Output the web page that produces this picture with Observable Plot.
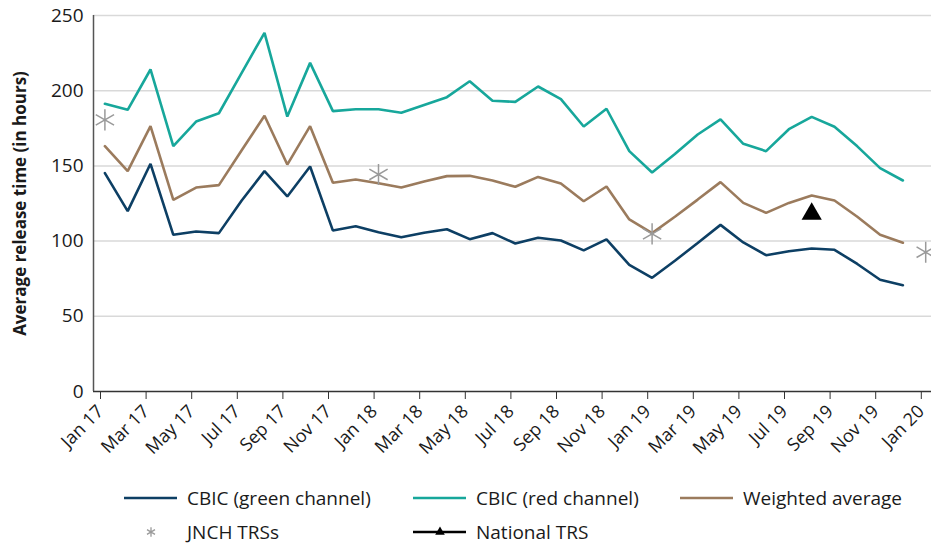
<!DOCTYPE html>
<html><head><meta charset="utf-8">
<script src="https://cdn.jsdelivr.net/npm/d3@7"></script>
<script src="https://cdn.jsdelivr.net/npm/@observablehq/plot@0.6"></script>
<style>
body{margin:0;background:#fff;}
#wrap{width:931px;height:546px;overflow:hidden;font-family:"Open Sans",sans-serif;}
#wrap svg{display:block;}
</style></head><body><div id="wrap"><div id="chart"></div><svg id="legend" width="931" height="76"></svg></div>
<script>
const months = ["Jan 17","Feb 17","Mar 17","Apr 17","May 17","Jun 17","Jul 17","Aug 17","Sep 17","Oct 17","Nov 17","Dec 17",
"Jan 18","Feb 18","Mar 18","Apr 18","May 18","Jun 18","Jul 18","Aug 18","Sep 18","Oct 18","Nov 18","Dec 18",
"Jan 19","Feb 19","Mar 19","Apr 19","May 19","Jun 19","Jul 19","Aug 19","Sep 19","Oct 19","Nov 19","Dec 19"];
const allMonths = [...months, "Jan 20"];
const tickLabels = ["Jan 17","Mar 17","May 17","Jul 17","Sep 17","Nov 17","Jan 18","Mar 18","May 18","Jul 18","Sep 18","Nov 18","Jan 19","Mar 19","May 19","Jul 19","Sep 19","Nov 19","Jan 20"];
const yTicks = [0,50,100,150,200,250];

const greenChannel = [145.2,119.9,151.4,104.2,106.4,105.3,127,146.5,129.7,149.6,107.0,109.9,
105.9,102.6,105.5,107.9,101.3,105.3,98.4,102.2,100.4,93.8,101.1,84.2,
75.6,86.9,98.8,110.8,99.1,90.6,93.3,95.1,94.2,84.8,74.3,70.7];
const redChannel = [191.3,187.3,214.1,163.1,179.5,185.0,211.9,238.5,182.8,218.5,186.4,187.7,
187.7,185.3,190.5,195.7,206.3,193.3,192.6,202.8,194.4,176.2,188.0,159.8,
145.6,157.9,170.9,180.9,164.7,159.8,174.4,182.6,176.0,163.0,148.5,140.3];
const weightedAvg = [163.1,146.5,176.4,127.4,135.6,137.2,160.4,183.3,150.9,176.4,138.8,141.0,
138.5,135.6,139.6,143.2,143.4,140.3,136.1,142.7,138.3,126.5,136.3,114.4,
105.3,116.2,127.6,139.2,125.4,118.8,125.4,130.3,127.0,116.2,104.2,98.9];
const jnchMonths = ["Jan 17","Jan 18","Jan 19","Jan 20"];
const jnchValues = [180.6,144.3,104.8,92.6];
const nationalMonths = ["Aug 19"];
const nationalValues = [118.1];

const seriesNames = ["CBIC (green channel)","CBIC (red channel)","Weighted average","JNCH TRSs","National TRS"];
const colors = {"CBIC (green channel)":"#0d3f64","CBIC (red channel)":"#17a79b","Weighted average":"#9b7b5d","JNCH TRSs":"#9a9a9a","National TRS":"#000000"};

const center = m => allMonths.indexOf(m) + 0.5;
const lineRows = [];
[[greenChannel,seriesNames[0]],[redChannel,seriesNames[1]],[weightedAvg,seriesNames[2]]].forEach(([vals,name]) => {
  vals.forEach((v,i) => lineRows.push({x: center(months[i]), y: v, s: name}));
});
const jnch = jnchMonths.map((m,i) => ({x: center(m), y: jnchValues[i]}));
const national = nationalMonths.map((m,i) => ({x: center(m), y: nationalValues[i]}));
const tickIdx = tickLabels.map(l => allMonths.indexOf(l));

const FONT = "Open Sans";
const chart = Plot.plot({
  width: 931, height: 470,
  marginTop: 15, marginBottom: 79, marginLeft: 93, marginRight: 0,
  style: {fontFamily: FONT, fontSize: "16px", color: "#1a1a1a", background: "white", overflow: "visible"},
  x: {domain: [0, 37], range: [93, 936.6]},
  y: {domain: [0, 250]},
  marks: [
    Plot.gridY(yTicks.filter(d => d > 0), {stroke: "#d9d9d9", strokeOpacity: 1, strokeWidth: 1.5}),
    Plot.axisY(yTicks, {tickSize: 0, tickPadding: 10, label: null, fontSize: 19}),
    Plot.axisX(tickIdx, {tickFormat: d => allMonths[d], tickRotate: -45, tickSize: 8, tickPadding: 9, dx: 7, label: null, fontSize: 18, stroke: "#333"}),
    Plot.ruleY([0], {stroke: "#333", strokeWidth: 1.5}),
    Plot.ruleX([0], {stroke: "#555", strokeWidth: 1.5}),
    Plot.line(lineRows, {x: "x", y: "y", z: "s", stroke: d => colors[d.s], strokeWidth: 2.6, strokeLinejoin: "miter"}),
    Plot.dot(jnch, {x: "x", y: "y", symbol: "asterisk", r: 10, stroke: colors["JNCH TRSs"], strokeWidth: 1.5}),
    Plot.dot(national, {x: "x", y: "y", symbol: "triangle", r: 7.5, fill: "#000", stroke: null}),
    Plot.text(["Average release time (in hours)"], {frameAnchor: "left", textAnchor: "middle", dx: -73, rotate: -90, fontWeight: "bold", fontSize: 17, fill: "#1a1a1a"})
  ]
});
document.getElementById("chart").appendChild(chart);

// legend
const lg = d3.select("#legend").style("font-family", FONT).style("font-size", "19px");
const items = [
  {name: seriesNames[0], x0: 124, y: 28, type: "line"},
  {name: seriesNames[1], x0: 413, y: 28, type: "line"},
  {name: seriesNames[2], x0: 680, y: 28, type: "line"},
  {name: seriesNames[3], x0: 124, y: 62, type: "asterisk"},
  {name: seriesNames[4], x0: 413, y: 62, type: "triangleLine"}
];
items.forEach(it => {
  const g = lg.append("g");
  if (it.type === "line" || it.type === "triangleLine") {
    g.append("line").attr("x1", it.x0).attr("x2", it.x0 + 53).attr("y1", it.y).attr("y2", it.y)
      .attr("stroke", colors[it.name]).attr("stroke-width", 2.6);
  }
  if (it.type === "triangleLine") {
    g.append("path").attr("d", d3.symbol(d3.symbolTriangle, 40)()).attr("transform", `translate(${it.x0 + 27},${it.y})`).attr("fill", "#000");
  }
  if (it.type === "asterisk") {
    g.append("path").attr("d", d3.symbol(d3.symbolAsterisk, 60)()).attr("transform", `translate(${it.x0 + 27},${it.y})`)
      .attr("fill", "none").attr("stroke", colors[it.name]).attr("stroke-width", 1.3);
  }
  g.append("text").attr("x", it.x0 + 63).attr("y", it.y).attr("dy", "0.35em").attr("fill", "#1a1a1a").text(it.name);
});
</script></body></html>
